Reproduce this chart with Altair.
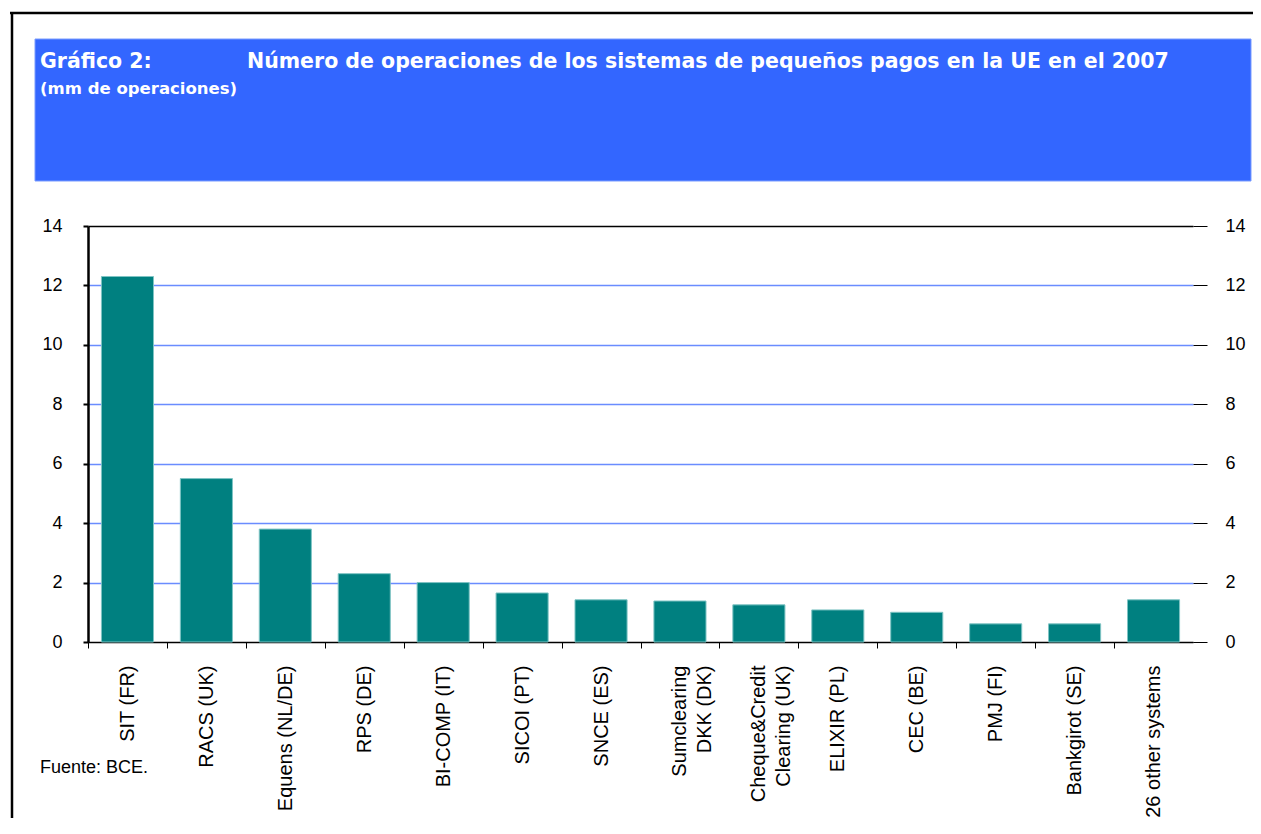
import altair as alt
import pandas as pd

systems = ["SIT (FR)", "RACS (UK)", "Equens (NL/DE)", "RPS (DE)", "BI-COMP (IT)",
           "SICOI (PT)", "SNCE (ES)", "Sumclearing\nDKK (DK)", "Cheque&Credit\nClearing (UK)",
           "ELIXIR (PL)", "CEC (BE)", "PMJ (FI)", "Bankgirot (SE)", "26 other systems"]
values = [12.3, 5.5, 3.8, 2.3, 2.0, 1.65, 1.42, 1.38, 1.25, 1.08, 1.0, 0.61, 0.61, 1.42]
y_ticks = [0, 2, 4, 6, 8, 10, 12, 14]

title_left = "Gráfico 2:"
title_main = "Número de operaciones de los sistemas de pequeños pagos en la UE en el 2007"
subtitle = "(mm de operaciones)"
source = "Fuente: BCE."

df = pd.DataFrame({"sistema": systems, "valor": values})
one = alt.Data(values=[{"k": 1}])

W, H = 1105, 416
FONT = "Liberation Sans"
TFONT = "DejaVu Sans"
HALF_STEP = W / len(systems) / 2

x_axis = alt.Axis(
    title=None, labelAngle=-90, labelAlign="right", labelBaseline="middle",
    labelFontSize=20, labelFont=FONT, labelColor="#000", labelPadding=17,
    labelExpr="split(datum.label, '\\n')", labelLineHeight=25,
    tickOffset=-HALF_STEP, labelOffset=HALF_STEP,
    tickSize=6, tickColor="#000", tickWidth=1,
    domainColor="#000", domainWidth=1, labelOverlap=False, labelLimit=300
)
x_scale = alt.Scale(paddingInner=0.34, paddingOuter=0.17)

bars = alt.Chart(df).mark_bar(color="#008080", stroke="#7fc4c4", strokeWidth=1).encode(
    x=alt.X("sistema:N", sort=None, scale=x_scale, axis=x_axis),
    y=alt.Y("valor:Q", scale=alt.Scale(domain=[0, 14], nice=False, zero=True)).axis(
        title=None, orient="left", values=y_ticks, labelFontSize=18, labelFont=FONT,
        labelColor="#000", labelPadding=21, tickSize=5, tickColor="#000", tickWidth=2,
        domainColor="#000", domainWidth=2.5, grid=True,
        gridColor={"condition": {"test": "datum.value == 14 || datum.value == 0", "value": "#000"},
                   "value": "#6a8cff"},
        gridWidth=1.5
    ),
)

bars_right = alt.Chart(df).mark_bar(opacity=0).encode(
    x=alt.X("sistema:N", sort=None, scale=x_scale, axis=x_axis),
    y=alt.Y("valor:Q", scale=alt.Scale(domain=[0, 14], nice=False, zero=True)).axis(
        title=None, orient="right", values=y_ticks, labelFontSize=18, labelFont=FONT,
        labelColor="#000", labelPadding=18, tickSize=14, tickColor="#000", tickWidth=1,
        domain=False, grid=False
    ),
)

header = alt.Chart(one).mark_rect(color="#3366ff", stroke="#7a9cff", strokeWidth=1).encode(
    x=alt.value(-53), x2=alt.value(1163), y=alt.value(-187), y2=alt.value(-45)
)

frame_top = alt.Chart(one).mark_rule(color="#000", strokeWidth=2.5).encode(
    x=alt.value(-78), x2=alt.value(1180), y=alt.value(-213)
)
frame_left = alt.Chart(one).mark_rule(color="#000", strokeWidth=2.5).encode(
    x=alt.value(-76), y=alt.value(-214), y2=alt.value(620)
)

t1 = alt.Chart(one).mark_text(text=title_left, font=TFONT, fontWeight="bold",
                              fontSize=20.5, color="white", align="left",
                              baseline="alphabetic").encode(
    x=alt.value(-48), y=alt.value(-158))
t2 = alt.Chart(one).mark_text(text=title_main, font=TFONT, fontWeight="bold",
                              fontSize=20.5, color="white", align="left",
                              baseline="alphabetic").encode(
    x=alt.value(159), y=alt.value(-158))
t3 = alt.Chart(one).mark_text(text=subtitle, font=TFONT, fontWeight="bold",
                              fontSize=16.5, color="white", align="left",
                              baseline="alphabetic").encode(
    x=alt.value(-48), y=alt.value(-132))
t4 = alt.Chart(one).mark_text(text=source, font=FONT, fontSize=18, color="#000",
                              align="left", baseline="alphabetic").encode(
    x=alt.value(-48), y=alt.value(547))

chart = alt.layer(header, frame_top, frame_left, t1, t2, t3, t4, bars, bars_right).resolve_scale(
    y="independent"
).properties(
    width=W, height=H,
    autosize=alt.AutoSizeParams(type="none"),
    padding={"left": 80, "top": 218, "right": 60, "bottom": 176},
    background="white",
).configure_view(stroke=None)

chart.save("out.html", embed_options={"renderer": "svg", "actions": False})
